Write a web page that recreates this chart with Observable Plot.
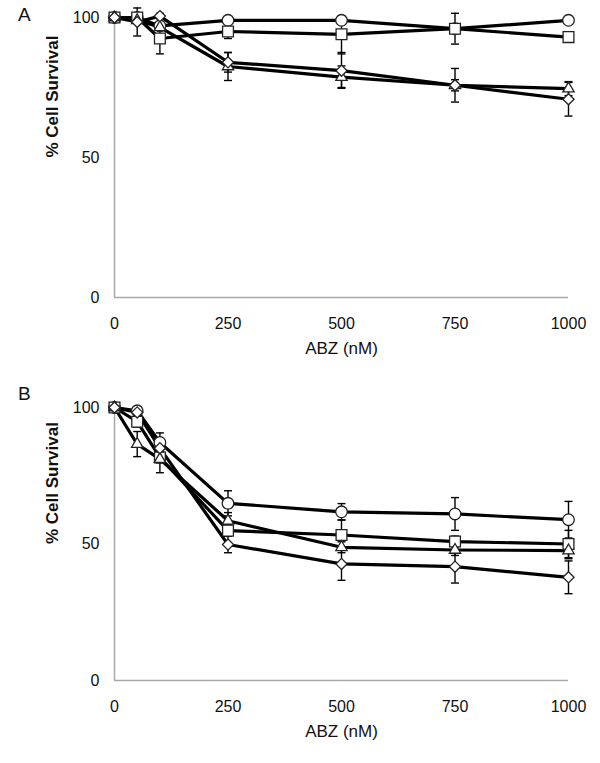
<!DOCTYPE html>
<html>
<head>
<meta charset="utf-8">
<script src="https://cdn.jsdelivr.net/npm/d3@7"></script>
<script src="https://cdn.jsdelivr.net/npm/@observablehq/plot@0.6"></script>
<style>
  body { margin: 0; background: #fff; }
  #wrap { position: relative; width: 600px; height: 763px; }
  .panel { position: relative; }
  .letter { position: absolute; left: 18px; font: 19px "Liberation Sans", Arial, sans-serif; color: #111; }
</style>
</head>
<body>
<div id="wrap"></div>
<script>
// ---- data ----
const doses = [0, 50, 100, 250, 500, 750, 1000];
const xTicks = [0, 250, 500, 750, 1000];
const yTicks = [0, 50, 100];
const seriesNames = ["circle", "square", "triangle", "diamond"];

// Panel A
const aCircle      = [100, 100, 97, 99, 99, 96, 99];
const aCircleErr   = [0, 1, 1, 1, 1, 1, 1];
const aSquare      = [100, 100, 92.5, 95, 94, 96, 93];
const aSquareErr   = [0, 1, 5.5, 2.5, 6.5, 5.5, 1];
const aTriangle    = [100, 99, 96.5, 82.5, 78.7, 75.8, 74.6];
const aTriangleErr = [0, 1, 1, 5, 4, 2, 2.5];
const aDiamond     = [100, 98.4, 100.5, 84, 81, 75.8, 70.8];
const aDiamondErr  = [0, 5, 1, 3.5, 6, 6, 6];

// Panel B
const bCircle      = [100, 98.8, 87.2, 64.9, 61.8, 61, 58.9];
const bCircleErr   = [0, 1, 3.5, 4.6, 3, 6, 6.7];
const bSquare      = [100, 94.8, 81.7, 54.9, 53.3, 50.9, 50];
const bSquareErr   = [0, 2, 2, 2, 5.5, 2, 5];
const bTriangle    = [100, 86.6, 81.1, 58.5, 48.8, 47.8, 47.6];
const bTriangleErr = [0, 4.6, 5, 3, 2, 2, 3];
const bDiamond     = [100, 98.2, 85.1, 49.8, 42.7, 41.7, 37.8];
const bDiamondErr  = [0, 1, 1, 3, 6, 6, 6];

const panels = [
  {letter: "A", values: [aCircle, aSquare, aTriangle, aDiamond], errs: [aCircleErr, aSquareErr, aTriangleErr, aDiamondErr],
   height: 370, marginTop: 17, marginBottom: 73, letterTop: 4},
  {letter: "B", values: [bCircle, bSquare, bTriangle, bDiamond], errs: [bCircleErr, bSquareErr, bTriangleErr, bDiamondErr],
   height: 393, marginTop: 37, marginBottom: 83, letterTop: 13}
];

const symbolStyle = {
  circle:   {symbol: "circle",   r: 5.8},
  square:   {symbol: "square",   r: 6.1},
  triangle: {symbol: "triangle", r: 4.2},
  diamond:  {symbol: "diamond2", r: 5.0}
};

const capSymbol = {
  draw(ctx, size) {
    const r = Math.sqrt(size / Math.PI);
    ctx.moveTo(-r, 0);
    ctx.lineTo(r, 0);
  }
};

const wrap = document.getElementById("wrap");

for (const p of panels) {
  const rows = [];
  p.values.forEach((vals, si) => {
    vals.forEach((v, i) => rows.push({series: seriesNames[si], dose: doses[i], value: v, err: p.errs[si][i]}));
  });
  const marks = [
    Plot.ruleX([0], {stroke: "#a8a8a8", strokeWidth: 1.5}),
    Plot.ruleY([0], {stroke: "#a8a8a8", strokeWidth: 1.5}),
    Plot.axisX({ticks: xTicks, tickSize: 0, tickPadding: 20, label: null, tickFormat: d3.format("d"), fontSize: 16}),
    Plot.axisY({ticks: yTicks, tickSize: 0, tickPadding: 15, label: null, tickFormat: d3.format("d"), fontSize: 16}),
    Plot.text(["% Cell Survival"], {frameAnchor: "left", dx: -62, rotate: -90, fontSize: 17, fontWeight: "bold", fill: "#111"}),
    Plot.text(["ABZ (nM)"], {frameAnchor: "bottom", dy: 56, fontSize: 17, fill: "#111"})
  ];
  for (const s of seriesNames) {
    const d = rows.filter(r => r.series === s);
    marks.push(Plot.line(d, {x: "dose", y: "value", stroke: "#000", strokeWidth: 3.2}));
  }
  for (const s of seriesNames) {
    const d = rows.filter(r => r.series === s && r.err > 0);
    marks.push(Plot.ruleX(d, {x: "dose", y1: r => r.value - r.err, y2: r => r.value + r.err, stroke: "#000", strokeWidth: 1.4}));
    marks.push(Plot.dot(d, {x: "dose", y: r => r.value - r.err, symbol: capSymbol, r: 4, stroke: "#000", strokeWidth: 1.4}));
    marks.push(Plot.dot(d, {x: "dose", y: r => r.value + r.err, symbol: capSymbol, r: 4, stroke: "#000", strokeWidth: 1.4}));
  }
  for (const s of seriesNames) {
    const d = rows.filter(r => r.series === s);
    marks.push(Plot.dot(d, {x: "dose", y: "value", symbol: symbolStyle[s].symbol, r: symbolStyle[s].r, fill: "#fff", stroke: "#222", strokeWidth: 1.3}));
  }
  const chart = Plot.plot({
    width: 600,
    height: p.height,
    marginTop: p.marginTop,
    marginBottom: p.marginBottom,
    marginLeft: 114,
    marginRight: 32,
    x: {domain: [0, 1000]},
    y: {domain: [0, 100]},
    style: {fontFamily: "'Liberation Sans', Arial, sans-serif", fontSize: "16px", color: "#111", background: "#fff", overflow: "visible"},
    marks
  });
  const div = document.createElement("div");
  div.className = "panel";
  div.style.height = p.height + "px";
  div.appendChild(chart);
  const lab = document.createElement("span");
  lab.className = "letter";
  lab.style.top = p.letterTop + "px";
  lab.textContent = p.letter;
  div.appendChild(lab);
  wrap.appendChild(div);
}
</script>
</body>
</html>
